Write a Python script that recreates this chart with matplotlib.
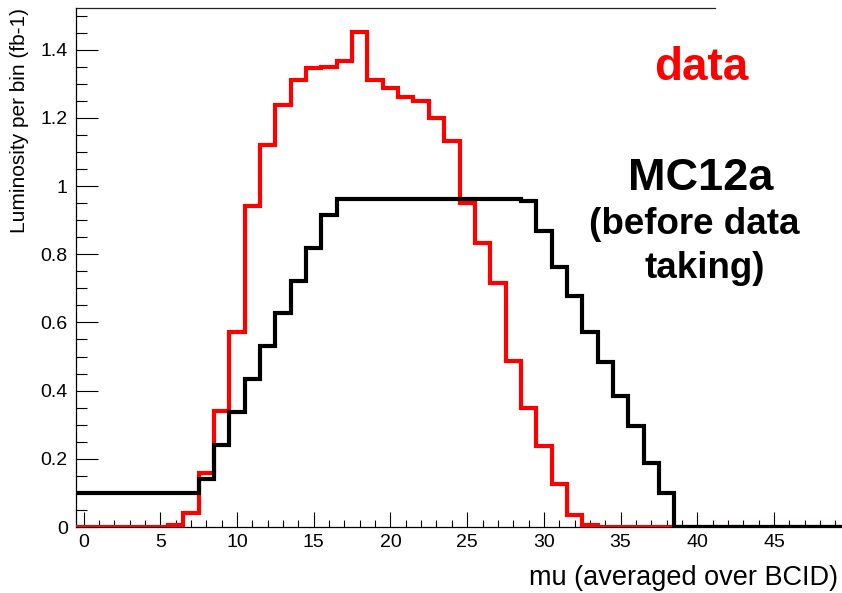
import numpy as np
import matplotlib
matplotlib.use("Agg")
import matplotlib.pyplot as plt
from matplotlib.ticker import MultipleLocator, FormatStrFormatter

plt.rcParams["font.family"] = ["Liberation Sans", "DejaVu Sans"]

# 50 bins of unit width centred on the integers 0..49
EDGES = np.arange(51) - 0.5

# data (red), luminosity per bin in fb-1, bins 0..38
DATA = [0, 0, 0, 0, 0, 0, 0.007, 0.041, 0.158, 0.341,
        0.573, 0.94, 1.12, 1.237, 1.31, 1.347, 1.35, 1.366, 1.452, 1.31,
        1.288, 1.26, 1.25, 1.20, 1.132, 0.95, 0.832, 0.715, 0.487, 0.35,
        0.237, 0.125, 0.035, 0.006, 0, 0, 0, 0, 0]
DATA = DATA + [0] * (50 - len(DATA))

# MC12a profile (black), bins 0..49
MC = [0.1, 0.1, 0.1, 0.1, 0.1, 0.1, 0.1, 0.1, 0.14, 0.24,
      0.338, 0.434, 0.531, 0.627, 0.72, 0.819, 0.914, 0.962, 0.962, 0.962,
      0.962, 0.962, 0.962, 0.962, 0.962, 0.962, 0.962, 0.962, 0.962, 0.955,
      0.868, 0.763, 0.678, 0.573, 0.485, 0.383, 0.297, 0.189, 0.1, 0]
MC = MC + [0] * (50 - len(MC))

W, H = 842, 593
fig = plt.figure(figsize=(W / 100, H / 100), dpi=100)
left, right = 76, 843   # pixel positions of x=-0.5 and x=49.5
top, bottom = 8, 527
ax = fig.add_axes([left / W, 1 - bottom / H, (right - left) / W, (bottom - top) / H])

ax.stairs(DATA, EDGES, baseline=None, color="#ff0000", lw=3.0, zorder=3)
ax.stairs(MC, EDGES, baseline=None, color="black", lw=3.0, zorder=4)

ax.set_xlim(-0.5, 49.5)
ax.set_ylim(0, 1.522)

ax.xaxis.set_major_locator(MultipleLocator(5))
ax.xaxis.set_minor_locator(MultipleLocator(1))
ax.yaxis.set_major_locator(MultipleLocator(0.2))
ax.yaxis.set_minor_locator(MultipleLocator(0.05))
ax.yaxis.set_major_formatter(FormatStrFormatter("%g"))

ax.tick_params(axis="both", which="both", direction="in", width=0.8,
               labelsize=14, top=False, right=False)
ax.tick_params(axis="x", which="major", length=10.8, pad=5)
ax.tick_params(axis="x", which="minor", length=5)
ax.tick_params(axis="y", which="major", length=16, pad=6)
ax.tick_params(axis="y", which="minor", length=8)

for s in ("top", "right"):
    ax.spines[s].set_visible(False)
for s in ("left", "bottom"):
    ax.spines[s].set_linewidth(0.9)
# top frame line, partly hidden behind the text box on the slide
ax.plot([0, (715 - left) / (right - left)], [1, 1], transform=ax.transAxes,
        color="#222222", lw=0.9, clip_on=False)

fig.text(20 / W, 1 - 8 / H, "Luminosity per bin (fb-1)", rotation=90,
         ha="center", va="top", fontsize=15)
fig.text(838 / W, 1 - 578 / H, "mu (averaged over BCID)", ha="right",
         va="center", fontsize=19.5)

fig.text(701 / W, 1 - 68 / H, "data", color="#ff0000", fontsize=33,
         fontweight="bold", ha="center", va="center")
fig.text(701 / W, 1 - 178 / H, "MC12a", fontsize=32.5,
         fontweight="bold", ha="center", va="center")
fig.text(694 / W, 1 - 224 / H, "(before data", fontsize=26.5,
         fontweight="bold", ha="center", va="center")
fig.text(705 / W, 1 - 268 / H, "taking)", fontsize=26.5,
         fontweight="bold", ha="center", va="center")

fig.savefig("out.png", dpi=100)
